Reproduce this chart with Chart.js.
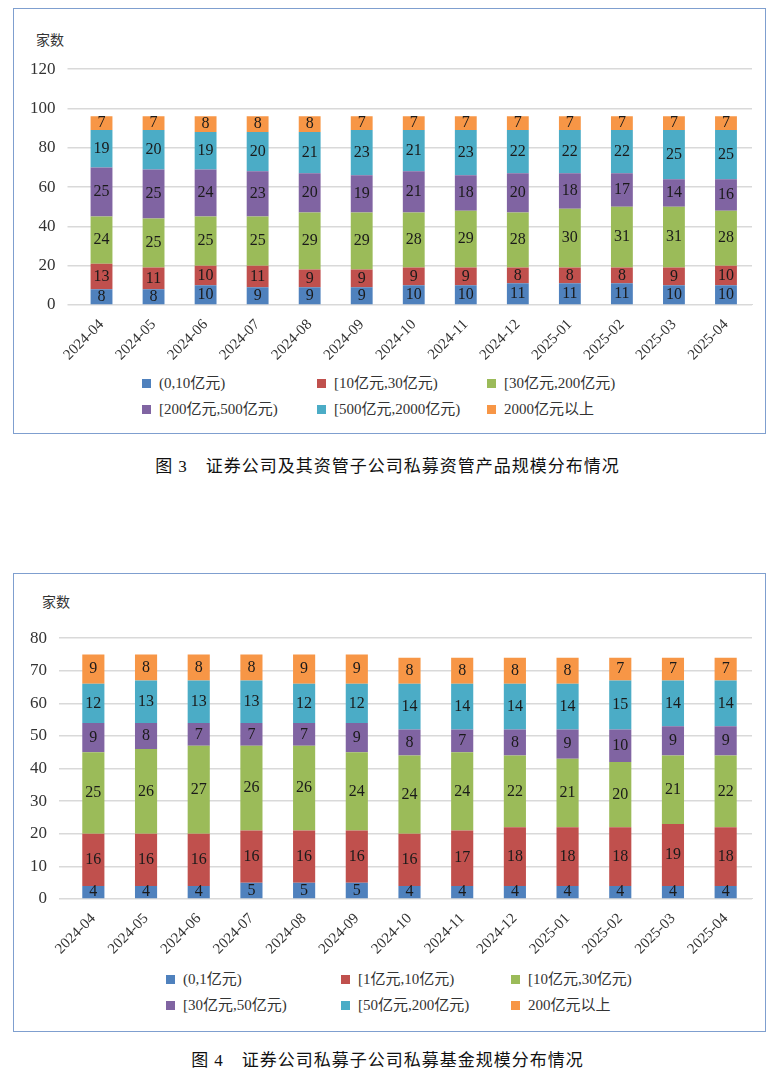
<!DOCTYPE html>
<html><head><meta charset="utf-8">
<script src="https://cdn.jsdelivr.net/npm/chart.js@4.4.1/dist/chart.umd.min.js"></script>
<style>
body{margin:0;background:#fff;font-family:"Liberation Serif","Noto Sans CJK SC",serif;}
.box{position:absolute;left:13px;width:753px;border:1.5px solid #7f9fcf;box-sizing:border-box;}
.unit{position:absolute;font-size:14px;color:#333;}
.legend{position:absolute;display:grid;grid-template-columns:175px 170px 150px;row-gap:5px;font-size:15px;color:#333;}
.legend span{display:inline-block;width:9px;height:9px;margin-right:8px;}
.cap{position:absolute;left:0;width:775px;text-align:center;font-size:17px;letter-spacing:1px;color:#111;}
</style></head><body>
<div class="box" style="top:8px;height:426px"><div class="unit" style="left:22px;top:20px">家数</div>
<div style="position:absolute;left:4px;top:38px;width:742px;height:320px"><canvas id="c1"></canvas></div>
<div class="legend" id="l1" style="left:128px;top:362px"></div></div>
<div class="cap" style="top:452px">图 3　证券公司及其资管子公司私募资管产品规模分布情况</div>
<div class="box" style="top:573px;height:459px"><div class="unit" style="left:28px;top:17px">家数</div>
<div style="position:absolute;left:4px;top:42px;width:742px;height:345px"><canvas id="c2"></canvas></div>
<div class="legend" id="l2" style="left:152px;top:393px"></div></div>
<div class="cap" style="top:1046px">图 4　证券公司私募子公司私募基金规模分布情况</div>
<script>
const months = ["2024-04","2024-05","2024-06","2024-07","2024-08","2024-09","2024-10","2024-11","2024-12","2025-01","2025-02","2025-03","2025-04"];
const colors = ["#4F81BD","#C0504D","#9BBB59","#8064A2","#4BACC6","#F79646"];

const names1 = ["(0,10亿元)","[10亿元,30亿元)","[30亿元,200亿元)","[200亿元,500亿元)","[500亿元,2000亿元)","2000亿元以上"];
const a1 = [8,8,10,9,9,9,10,10,11,11,11,10,10];
const b1 = [13,11,10,11,9,9,9,9,8,8,8,9,10];
const c1 = [24,25,25,25,29,29,28,29,28,30,31,31,28];
const d1 = [25,25,24,23,20,19,21,18,20,18,17,14,16];
const e1 = [19,20,19,20,21,23,21,23,22,22,22,25,25];
const f1 = [7,7,8,8,8,7,7,7,7,7,7,7,7];

const names2 = ["(0,1亿元)","[1亿元,10亿元)","[10亿元,30亿元)","[30亿元,50亿元)","[50亿元,200亿元)","200亿元以上"];
const a2 = [4,4,4,5,5,5,4,4,4,4,4,4,4];
const b2 = [16,16,16,16,16,16,16,17,18,18,18,19,18];
const c2 = [25,26,27,26,26,24,24,24,22,21,20,21,22];
const d2 = [9,8,7,7,7,9,8,7,8,9,10,9,9];
const e2 = [12,13,13,13,12,12,14,14,14,14,15,14,14];
const f2 = [9,8,8,8,9,9,8,8,8,8,7,7,7];

const FONT = "'Liberation Serif','Noto Sans CJK SC',serif";

const labelPlugin = {
  id: "barLabels",
  afterDatasetsDraw(chart) {
    const ctx = chart.ctx;
    ctx.save();
    ctx.font = "16px " + FONT;
    ctx.fillStyle = "#1a1a1a";
    ctx.textAlign = "center";
    ctx.textBaseline = "middle";
    chart.data.datasets.forEach((ds, i) => {
      chart.getDatasetMeta(i).data.forEach((bar, j) => {
        ctx.fillText(ds.data[j], bar.x, (bar.y + bar.base) / 2);
      });
    });
    ctx.restore();
  }
};

function makeChart(id, legendId, names, series, max, step) {
  new Chart(document.getElementById(id), {
    type: "bar",
    data: {
      labels: months,
      datasets: series.map((s, i) => ({
        label: names[i], data: s, backgroundColor: colors[i], barPercentage: 0.42, categoryPercentage: 1
      }))
    },
    options: {
      responsive: true, maintainAspectRatio: false, animation: false,
      layout: { padding: { right: 8 } },
      plugins: { legend: { display: false }, tooltip: { enabled: false } },
      scales: {
        x: {
          stacked: true, grid: { display: false }, border: { color: "#d9d9d9" },
          ticks: { maxRotation: 45, minRotation: 45, color: "#333", font: { size: 15, family: FONT } }
        },
        y: {
          stacked: true, min: 0, max: max,
          grid: { color: "#d9d9d9", lineWidth: 1.5 }, border: { display: false },
          ticks: { stepSize: step, color: "#333", font: { size: 17, family: FONT }, padding: 12 }
        }
      }
    },
    plugins: [labelPlugin]
  });
  document.getElementById(legendId).innerHTML = names.map((n, i) =>
    `<div><span style="background:${colors[i]}"></span>${n}</div>`).join("");
}

makeChart("c1", "l1", names1, [a1,b1,c1,d1,e1,f1], 120, 20);
makeChart("c2", "l2", names2, [a2,b2,c2,d2,e2,f2], 80, 10);
</script>
</body></html>
